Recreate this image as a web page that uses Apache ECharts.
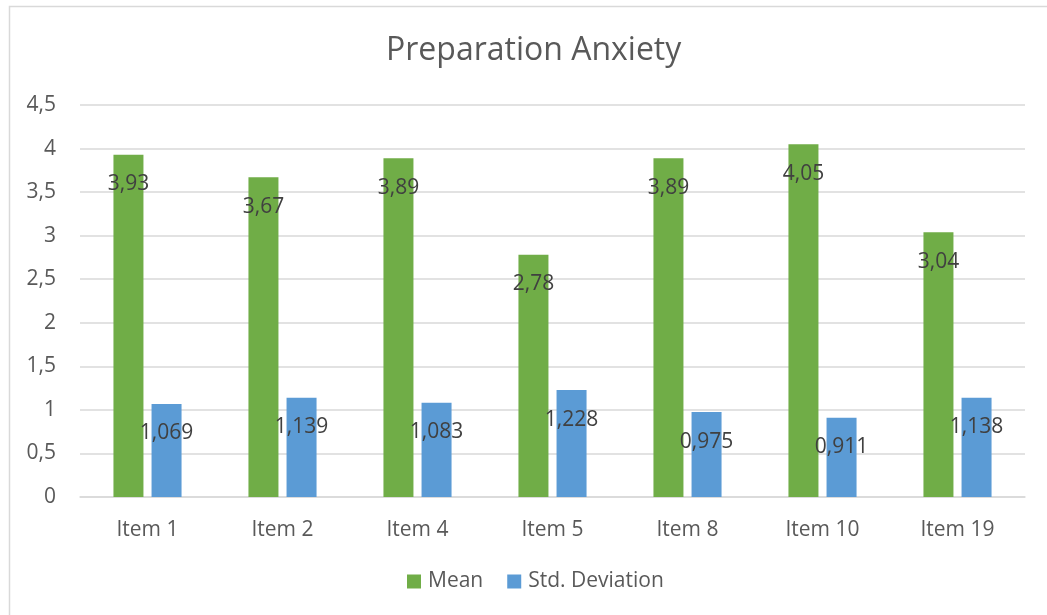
<!DOCTYPE html>
<html>
<head>
<meta charset="utf-8">
<script src="https://cdn.jsdelivr.net/npm/echarts@6/dist/echarts.min.js"></script>
<style>
  html, body { margin: 0; padding: 0; background: #ffffff; }
  #chart { width: 1047px; height: 615px; }
</style>
</head>
<body>
<div id="chart"></div>
<script>
const categories = ['Item 1', 'Item 2', 'Item 4', 'Item 5', 'Item 8', 'Item 10', 'Item 19'];
const meanValues = [3.93, 3.67, 3.89, 2.78, 3.89, 4.05, 3.04];
const stdValues = [1.069, 1.139, 1.083, 1.228, 0.975, 0.911, 1.138];
const seriesNames = ['Mean', 'Std. Deviation'];

const FONT = '"Open Sans", sans-serif';
const decimalComma = v => String(v).replace('.', ',');

const chart = echarts.init(document.getElementById('chart'));

const labelStyle = {
  show: true,
  position: 'insideTop',
  distance: 19,
  color: '#404040',
  fontSize: 21,
  fontFamily: FONT,
  formatter: p => decimalComma(p.value)
};

chart.setOption({
  animation: false,
  backgroundColor: '#ffffff',
  graphic: [{
    type: 'rect',
    shape: { x: 9.5, y: 6.5, width: 1100, height: 700 },
    style: { fill: 'none', stroke: '#d9d9d9', lineWidth: 1.5 },
    silent: true,
    z: 0
  }],
  title: {
    text: 'Preparation Anxiety',
    left: 381,
    top: 30,
    textStyle: { color: '#595959', fontSize: 32, fontWeight: 'normal', fontFamily: FONT }
  },
  legend: {
    data: seriesNames,
    bottom: 18,
    left: 402,
    itemWidth: 14,
    itemHeight: 14,
    itemGap: 24,
    icon: 'rect',
    textStyle: { color: '#595959', fontSize: 21, fontFamily: FONT, padding: [0, 0, 0, 2] }
  },
  grid: { left: 80, right: 22, top: 105, bottom: 118, containLabel: false },
  xAxis: {
    type: 'category',
    data: categories,
    axisLine: { lineStyle: { color: '#d9d9d9', width: 1.5 } },
    axisTick: { show: false },
    axisLabel: { color: '#595959', fontSize: 21, fontFamily: FONT, margin: 23 }
  },
  yAxis: {
    type: 'value',
    min: 0,
    max: 4.5,
    interval: 0.5,
    axisLine: { show: false },
    axisTick: { show: false },
    splitLine: { lineStyle: { color: '#d9d9d9', width: 1.5 } },
    axisLabel: {
      color: '#595959', fontSize: 21, fontFamily: FONT, margin: 24,
      formatter: v => decimalComma(v)
    }
  },
  series: [
    {
      name: seriesNames[0],
      type: 'bar',
      data: meanValues,
      barWidth: 30,
      barGap: '27%',
      itemStyle: { color: '#70ad47' },
      label: labelStyle
    },
    {
      name: seriesNames[1],
      type: 'bar',
      data: stdValues,
      barWidth: 30,
      barGap: '27%',
      itemStyle: { color: '#5b9bd5' },
      label: labelStyle
    }
  ]
});
</script>
</body>
</html>
